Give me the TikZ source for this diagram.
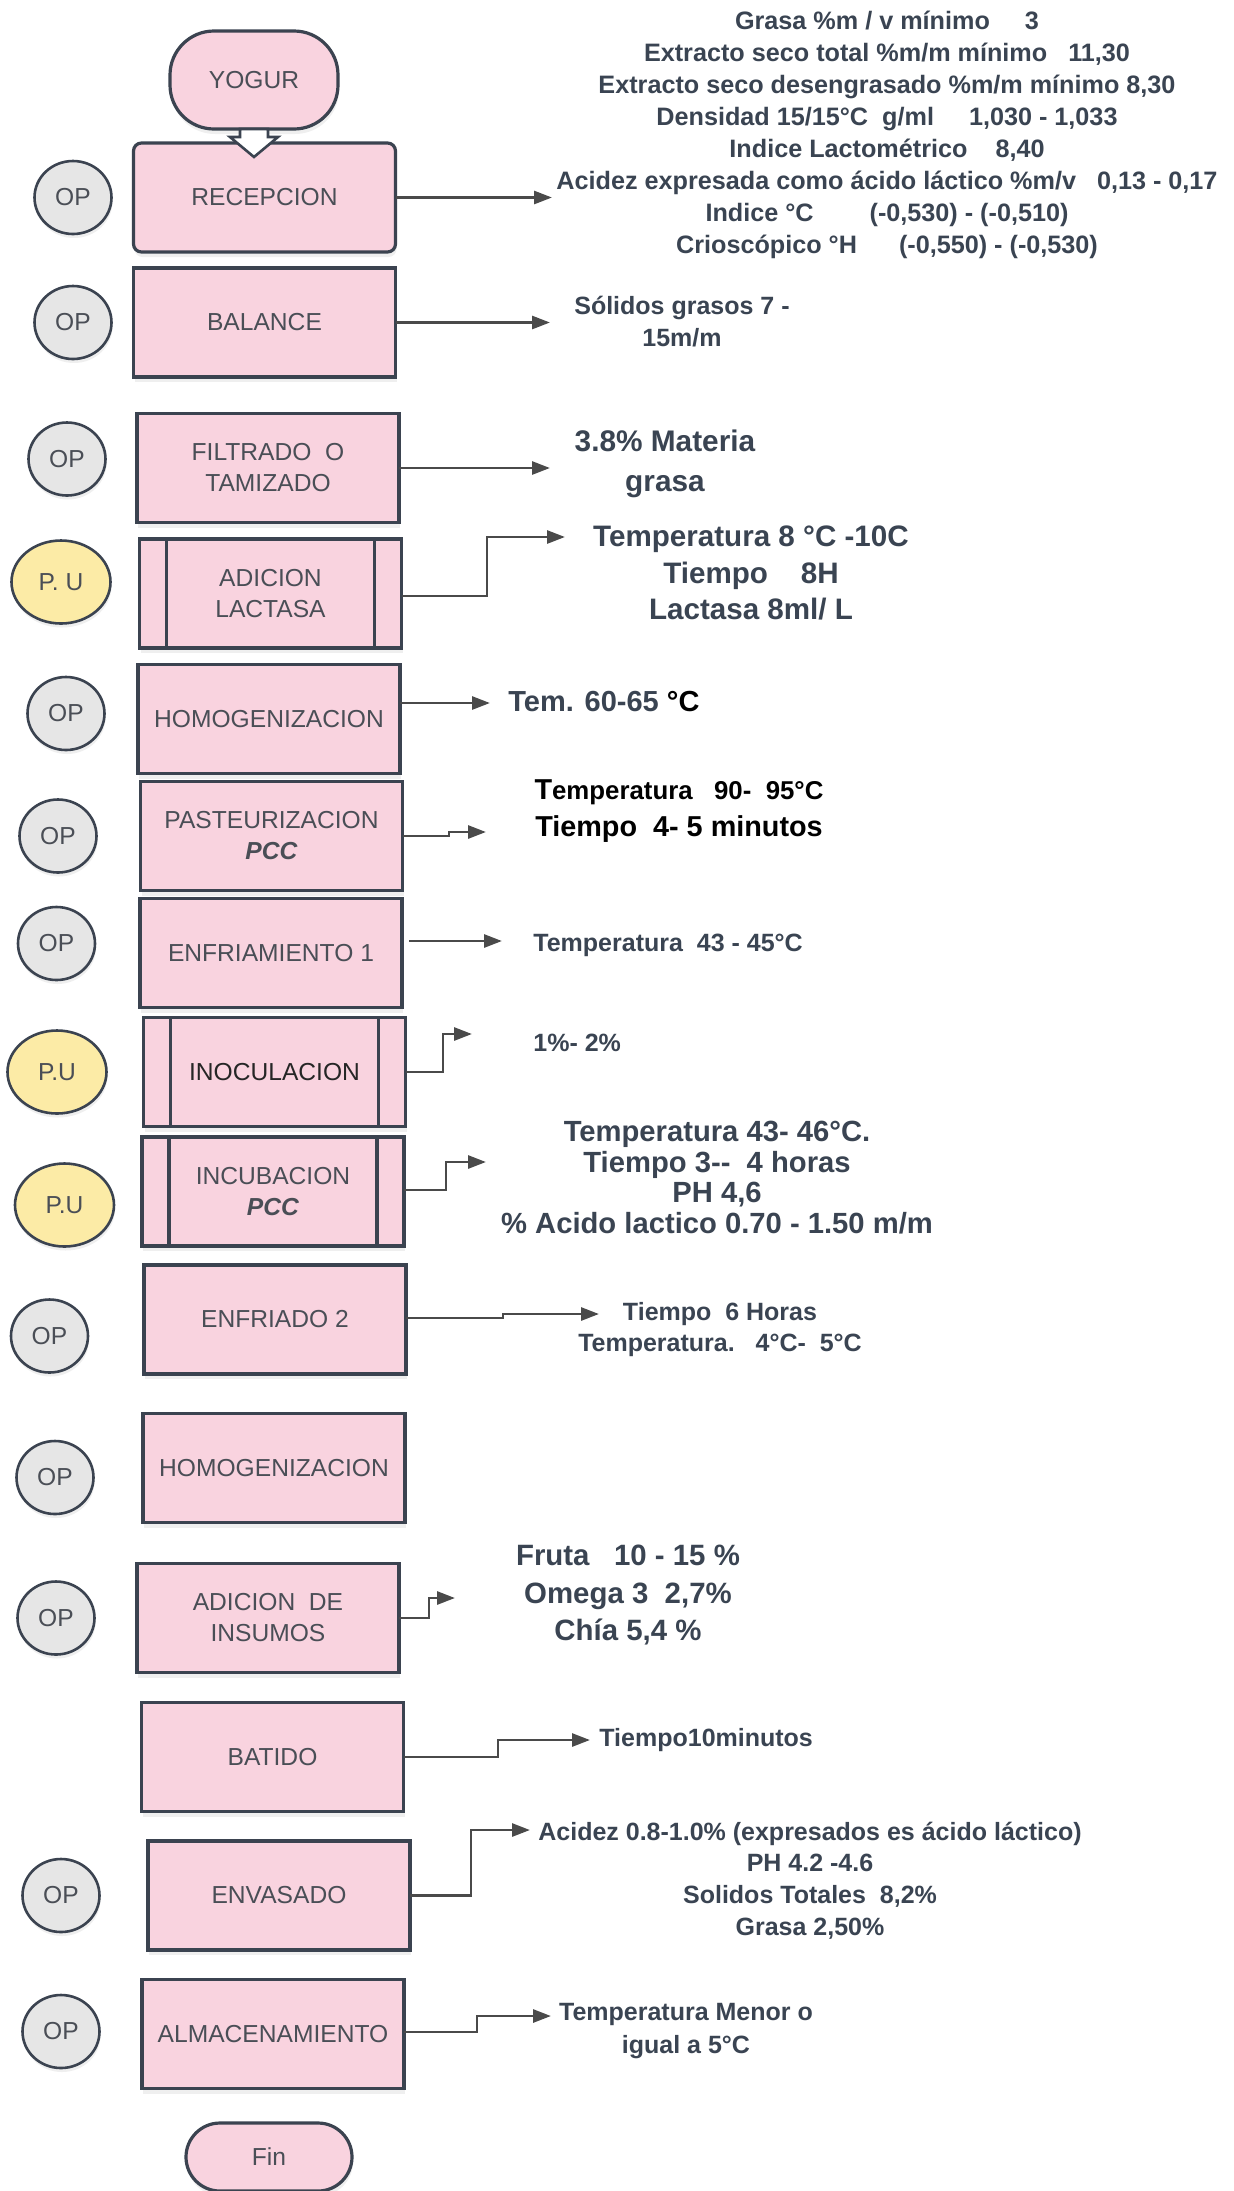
\documentclass[tikz,border=0pt]{standalone}
\usepackage{fontspec}
\setmainfont{Liberation Sans}
\usepackage{xcolor}
\usetikzlibrary{positioning, shapes.geometric, arrows.meta, calc, shadows}

\definecolor{yogpink}{HTML}{F9D3DF}
\definecolor{yogedge}{HTML}{3B4350}
\definecolor{opgray}{HTML}{E6E6E6}
\definecolor{puyellow}{HTML}{FCEBA6}
\definecolor{boxtext}{HTML}{4A4E56}
\definecolor{notetext}{HTML}{3A4452}
\definecolor{flowgray}{HTML}{4A4A4A}

\begin{document}
\begin{tikzpicture}[
    x=0.5pt, y=-0.5pt,
    box/.style={rectangle, draw=yogedge, line width=1.6pt, fill=yogpink, minimum width=131pt, minimum height=54.5pt, inner sep=2pt, outer sep=0pt, align=center, text=boxtext, font=\fontsize{12.3}{15.5}\selectfont, drop shadow={opacity=0.12, shadow xshift=0.5pt, shadow yshift=-2.5pt}},
    subproc/.style={box, path picture={
        \draw[yogedge, line width=1.6pt] ([xshift=13.5pt]path picture bounding box.north west) -- ([xshift=13.5pt]path picture bounding box.south west);
        \draw[yogedge, line width=1.6pt] ([xshift=-13.5pt]path picture bounding box.north east) -- ([xshift=-13.5pt]path picture bounding box.south east);}},
    term/.style={box, rounded corners=22pt, minimum width=84pt, minimum height=49pt},
    op/.style={ellipse, draw=yogedge, line width=1.3pt, fill=opgray, minimum width=38.5pt, minimum height=36.5pt, inner sep=0pt, outer sep=0pt, text=boxtext, font=\fontsize{12.3}{14}\selectfont, drop shadow={opacity=0.12, shadow xshift=0.5pt, shadow yshift=-2pt}},
    pu/.style={op, fill=puyellow, minimum width=49.5pt, minimum height=41.5pt},
    note/.style={align=center, inner sep=0pt, text=notetext, font=\bfseries\fontsize{12.5}{16}\selectfont},
    flow/.style={-{Triangle[length=9pt, width=6.5pt]}, draw=flowgray, line width=1.4pt},
    hollow/.style={draw=yogedge, line width=1.3pt, fill=white}
]
\path[use as bounding box, fill=white] (0,0) rectangle (1234,2191);
\node[term] (yogur) at (254,80) {YOGUR};
\node[box, rounded corners=4pt, below=7pt of yogur, xshift=5.25pt] (recepcion) {RECEPCION};
\node[box, below=8pt of recepcion] (balance) {BALANCE};
\node[box, below=18.25pt of balance, xshift=1.75pt] (filtrado) {FILTRADO~~O\\TAMIZADO};
\node[subproc, below=8.25pt of filtrado, xshift=1.25pt] (lactasa) {ADICION\\LACTASA};
\node[box, below=8.25pt of lactasa, xshift=-0.75pt] (homoga) {HOMOGENIZACION};
\node[box, below=4pt of homoga, xshift=1.25pt] (pasteur) {PASTEURIZACION\\\textbf{\textit{PCC}}};
\node[box, below=4pt of pasteur, xshift=-0.25pt] (enfria) {ENFRIAMIENTO 1};
\node[subproc, text=black!85, below=5pt of enfria, xshift=1.75pt] (inocula) {INOCULACION};
\node[subproc, below=5.25pt of inocula, xshift=-0.75pt] (incuba) {INCUBACION\\\textbf{\textit{PCC}}};
\node[box, below=9.5pt of incuba, xshift=1pt] (enfriado) {ENFRIADO 2};
\node[box, below=19.75pt of enfriado, xshift=-0.5pt] (homogb) {HOMOGENIZACION};
\node[box, below=20.5pt of homogb, xshift=-3pt] (insumos) {ADICION~~DE\\INSUMOS};
\node[box, below=15pt of insumos, xshift=2.25pt] (batido) {BATIDO};
\node[box, below=14.75pt of batido, xshift=3.25pt] (envasado) {ENVASADO};
\node[box, below=14.75pt of envasado, xshift=-3pt] (almacen) {ALMACENAMIENTO};
\node[term, rounded corners=17pt, minimum width=83pt, minimum height=34pt, below=17.25pt of almacen, xshift=-2pt] (fin) {Fin};
\node[op, left=11pt of recepcion] (op1) {OP};
\node[op, left=11pt of balance] (op2) {OP};
\node[op, left=15.75pt of filtrado, yshift=4.5pt] (op3) {OP};
\node[pu, left=14.5pt of lactasa, yshift=5.75pt] (pu1) {P. U};
\node[op, left=16.75pt of homoga, yshift=2.75pt] (op4) {OP};
\node[op, left=22pt of pasteur] (op5) {OP};
\node[op, left=22.5pt of enfria, yshift=4.75pt] (op6) {OP};
\node[pu, left=18.5pt of inocula] (pu2) {P.U};
\node[pu, left=14pt of incuba, yshift=-6.75pt] (pu3) {P.U};
\node[op, left=28pt of enfriado, yshift=-8.25pt] (op7) {OP};
\node[op, left=24.75pt of homogb, yshift=-4.75pt] (op8) {OP};
\node[op, left=21.25pt of insumos] (op9) {OP};
\node[op, left=24.25pt of envasado] (op10) {OP};
\node[op, left=21.25pt of almacen, yshift=1.25pt] (op11) {OP};
\node[note, font=\bfseries\fontsize{12.6}{16}\selectfont] (leche) at (887,134.5) {Grasa \%m / v mínimo~~~~~3\\Extracto seco total \%m/m mínimo~~~11,30\\Extracto seco desengrasado \%m/m mínimo 8,30\\Densidad 15/15°C~~g/ml~~~~~1,030 - 1,033\\Indice Lactométrico~~~~8,40\\Acidez expresada como ácido láctico \%m/v~~~0,13 - 0,17\\Indice °C~~~~~~~~(-0,530) - (-0,510)\\Crioscópico °H~~~~~~(-0,550) - (-0,530)};
\node[note] (solidos) at (682,322) {Sólidos grasos 7 -\\15m/m};
\node[note, font=\bfseries\fontsize{14.9}{20}\selectfont] (grasa) at (665,464) {3.8\% Materia\\grasa};
\node[note, font=\bfseries\fontsize{14.8}{18.25}\selectfont] (lactemp) at (751,573) {Temperatura 8 °C -10C\\Tiempo~~~~8H\\Lactasa 8ml/ L};
\node[note, anchor=west, font=\bfseries\fontsize{14.5}{18}\selectfont] (homtemp) at (508,702) {Tem. 60-65 {\color{black}°C}};
\node[note, text=black, font=\bfseries\fontsize{14.4}{18.5}\selectfont] (pastemp) at (679,811.5) {T{\fontsize{12.9}{18.5}\selectfont emperatura~~~90-~~95°C}\\Tiempo~~4- 5 minutos};
\node[note, anchor=west] (enftemp) at (533,945) {Temperatura~~43 - 45°C};
\node[note, anchor=west] (inocdosis) at (533,1043) {1\%- 2\%};
\node[note, font=\bfseries\fontsize{14.6}{15.25}\selectfont] (incubtemp) at (717,1177.5) {Temperatura 43- 46°C.\\Tiempo 3-{}-~~4 horas\\PH 4,6\\\% Acido lactico 0.70 - 1.50 m/m};
\node[note, font=\bfseries\fontsize{12.5}{15.5}\selectfont] (enfrtemp) at (720,1329.5) {Tiempo~~6 Horas\\Temperatura.~~~4°C-~~5°C};
\node[note, font=\bfseries\fontsize{14.7}{18.6}\selectfont] (frutas) at (628,1595) {Fruta~~~10 - 15 \%\\Omega 3~~2,7\%\\Chía 5,4 \%};
\node[note, anchor=west] (batiempo) at (599,1740) {Tiempo10minutos};
\node[note, font=\bfseries\fontsize{12.5}{15.85}\selectfont] (envacidez) at (810,1880.5) {Acidez 0.8-1.0\% (expresados es ácido láctico)\\PH 4.2 -4.6\\Solidos Totales~~8,2\%\\Grasa 2,50\%};
\node[note, font=\bfseries\fontsize{12.5}{16.5}\selectfont] (almtemp) at (686,2031.5) {Temperatura Menor o\\igual a 5°C};
\coordinate (t1) at (552,197);
\coordinate (t2) at (550,322);
\coordinate (t3) at (550,468);
\coordinate (t4) at (565,537);
\coordinate (t5) at (490,703);
\coordinate (t6) at (486,832);
\coordinate (t7) at (502,941);
\coordinate (t8) at (472,1034);
\coordinate (t9) at (486,1162);
\coordinate (t10) at (599,1314);
\coordinate (t11) at (455,1598);
\coordinate (t12) at (590,1740);
\coordinate (t13) at (530,1830);
\coordinate (t14) at (551,2016);
\draw[hollow] ([xshift=-7pt]yogur.south) -- ++(0,-4pt) -- ++(-5pt,0) -- ++(12pt,-10pt) -- ++(12pt,10pt) -- ++(-5pt,0) -- ++(0,4pt) -- cycle;
\draw[flow] (recepcion.east) -- (recepcion.east -| t1);
\draw[flow] (balance.east) -- (balance.east -| t2);
\draw[flow] (filtrado.east) -- (filtrado.east -| t3);
\draw[flow] ([yshift=-1.25pt]lactasa.east) -- ++(42.75pt,0) |- (t4);
\draw[flow] (homoga.east |- t5) -- (t5);
\draw[flow] (pasteur.east) -- ++(23.25pt,0) |- (t6);
\draw[flow, shorten <=3.5pt] (enfria.east |- t7) -- (t7);
\draw[flow] (inocula.east) -- ++(18.75pt,0) |- (t8);
\draw[flow] ([yshift=0.75pt]incuba.east) -- ++(21pt,0) |- (t9);
\draw[flow] ([yshift=0.75pt]enfriado.east) -- ++(48.5pt,0) |- (t10);
\draw[flow] (insumos.east) -- ++(15pt,0) |- (t11);
\draw[flow] (batido.east) -- ++(47.25pt,0) |- (t12);
\draw[flow] (envasado.east) -- ++(30.5pt,0) |- (t13);
\draw[flow] ([yshift=1pt]almacen.east) -- ++(36.5pt,0) |- (t14);
\end{tikzpicture}
\end{document}
